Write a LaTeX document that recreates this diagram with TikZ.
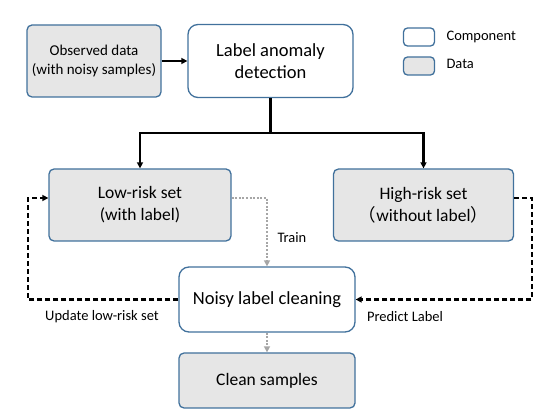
\documentclass[tikz,border=0pt]{standalone}
\usepackage{fontspec}
\setmainfont{Carlito}
\newfontfamily\cjk{Noto Sans CJK SC}
\usetikzlibrary{arrows.meta}
\definecolor{boxline}{HTML}{41719C}
\definecolor{datafill}{HTML}{E6E6E6}
\definecolor{traingray}{HTML}{A6A6A6}
\tikzstyle{comp}=[draw=boxline,line width=1.3pt,fill=white,rounded corners=10pt,align=center,
  font=\fontsize{18.5}{22}\selectfont]
\tikzstyle{data}=[draw=boxline,line width=1.3pt,fill=datafill,rounded corners=5pt,align=center,
  font=\fontsize{17.5}{22}\selectfont]
\tikzstyle{lab}=[font=\fontsize{14.5}{17}\selectfont]
\tikzstyle{flow}=[line width=2.2pt,-{Triangle[length=6pt,width=6pt]}]
\tikzstyle{fb}=[line width=2.2pt,dash pattern=on 5pt off 3pt,-{Triangle[length=6pt,width=6pt]}]
\tikzstyle{train}=[traingray,line width=2.2pt,dash pattern=on 2pt off 1.6pt,-{Triangle[length=6pt,width=6pt]}]

\begin{document}
\begin{tikzpicture}[x=1pt,y=-1pt]
 \useasboundingbox (0,0) rectangle (549,419);
 % boxes
 \node[data,minimum width=134pt,minimum height=72pt,font=\fontsize{15}{19}\selectfont] (obs) at (94,61)
   {Observed data\\(with noisy samples)};
 \node[comp,minimum width=165pt,minimum height=73pt] (lad) at (270.5,61) {Label anomaly\\detection};
 \node[data,minimum width=182pt,minimum height=72pt] (low) at (140,205) {Low-risk set\\(with label)};
 \node[data,minimum width=180pt,minimum height=72pt] (high) at (423.5,205)
   {High-risk set\\{\cjk （}without label{\cjk ）}};
 \node[comp,minimum width=176pt,minimum height=65pt] (noisy) at (267,299.5) {Noisy label cleaning};
 \node[data,minimum width=176pt,minimum height=55pt] (clean) at (267,380.5) {Clean samples};
 % legend
 \node[comp,rounded corners=4pt,minimum width=31pt,minimum height=18pt] (lcomp) at (419,37) {};
 \node[data,rounded corners=4pt,minimum width=31pt,minimum height=18pt] (ldata) at (419,66) {};
 \node[lab,anchor=west] (tcomp) at (443,37) {Component};
 \node[lab,anchor=west] (tdata) at (443,64) {Data};
 % labels
 \node[lab,anchor=west] (ttrain) at (274,238) {Train};
 \node[lab] (tupd) at (102,317) {Update low-risk set};
 \node[lab] (tpred) at (405,317) {Predict Label};
 % connectors
 \coordinate (split) at (270.5,133);
 \coordinate (rbend) at (532,198);
 \coordinate (lbend) at (28,198);
 \draw[flow] (obs) -- (lad);
 \draw[line width=2.2pt] (lad) -- (split);
 \draw[flow] (split) -| (low);
 \draw[flow] (split) -| (high);
 \draw[train] ([yshift=7pt]low.east) -| (noisy.north);
 \draw[train] (noisy) -- (clean);
 \draw[fb] ([yshift=7pt]high.east) -- (rbend) |- (noisy.east);
 \draw[fb] (noisy.west) -| (lbend) -- ([yshift=7pt]low.west);
\end{tikzpicture}
\end{document}
